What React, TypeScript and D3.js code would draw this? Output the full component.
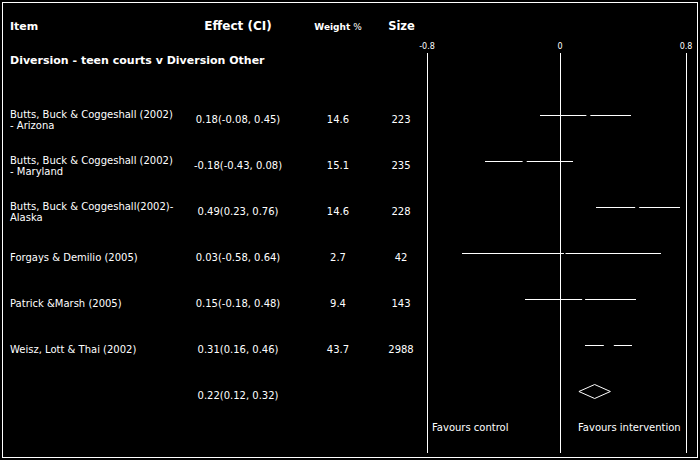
import React from "react";
import * as d3 from "d3";

const studyLabels = [
  ["Butts, Buck & Coggeshall  (2002)", "- Arizona"],
  ["Butts, Buck & Coggeshall (2002)", "- Maryland"],
  ["Butts, Buck & Coggeshall(2002)-", "Alaska"],
  ["Forgays & Demilio (2005)"],
  ["Patrick &Marsh (2005)"],
  ["Weisz, Lott & Thai (2002)"],
];
const effects = [0.18, -0.18, 0.49, 0.03, 0.15, 0.31];
const lowers = [-0.08, -0.43, 0.23, -0.58, -0.18, 0.16];
const uppers = [0.45, 0.08, 0.76, 0.64, 0.48, 0.46];
const weights = [14.6, 15.1, 14.6, 2.7, 9.4, 43.7];
const sizes = [223, 235, 228, 42, 143, 2988];
const pooled = [0.22, 0.12, 0.32];
const axisTicks = [-0.8, 0, 0.8];

const width = 700;
const height = 460;
// plain hyphen for negatives, like the original
const fmt = d3
  .formatLocale({ decimal: ".", thousands: ",", grouping: [3], currency: ["", ""], minus: "-" })
  .format(".2f");

const App = () => {
  // the original plot draws negative values a few px further left
  const x = d3
    .scaleLinear()
    .domain([-0.8, -0.000001, 0, 0.8])
    .range([427, 553, 560, 686]);

  const rows = d3.range(studyLabels.length + 1);
  const y = d3.scalePoint().domain(rows).range([115.5, 391.5]);

  const box = d3.scaleLinear().domain([0, 43.7]).range([1, 10]);

  const white = "#fff";
  const font = "DejaVu Sans";
  const last = y(rows.length - 1);

  return (
    <svg
      width={width}
      height={height}
      style={{ position: "absolute", left: 0, top: 0, background: "#000" }}
      fontFamily={font}
      fill={white}
    >
      <rect x={0} y={0} width={width} height={height} fill="#000" />
      <rect
        x={2.5}
        y={2.5}
        width={695}
        height={455}
        fill="none"
        stroke={white}
        strokeWidth={1}
      />

      {/* headers */}
      <text x={10} y={30} fontSize={11} fontWeight="bold">Item</text>
      <text x={238} y={30} fontSize={12} fontWeight="bold" textAnchor="middle">
        Effect (CI)
      </text>
      <text x={338} y={30} fontSize={9} textAnchor="middle">
        <tspan fontWeight="bold">Weight</tspan> %
      </text>
      <text x={401.5} y={30} fontSize={11.5} fontWeight="bold" textAnchor="middle">
        Size
      </text>
      <text x={10} y={64} fontSize={11} fontWeight="bold">
        Diversion - teen courts v Diversion Other
      </text>

      {/* axis */}
      <g shapeRendering="crispEdges">
        {axisTicks.map((t) => (
          <g key={t}>
            <line x1={x(t)} x2={x(t)} y1={53} y2={453} stroke={white} />
            <text x={x(t)} y={49} fontSize={8} textAnchor="middle">
              {t === 0 ? "0" : String(t)}
            </text>
          </g>
        ))}
      </g>

      {/* studies */}
      {studyLabels.map((lbl, i) => {
        const yy = y(i);
        const s = box(weights[i]);
        return (
          <g key={i} fontSize={10}>
            {lbl.length > 1 ? (
              <text x={10}>
                <tspan x={10} y={yy + 2}>{lbl[0]}</tspan>
                <tspan x={10} y={yy + 13.5}>{lbl[1]}</tspan>
              </text>
            ) : (
              <text x={10} y={yy + 7.5}>{lbl[0]}</text>
            )}
            <text x={238} y={yy + 7.5} textAnchor="middle">
              {fmt(effects[i]) + "(" + fmt(lowers[i]) + ", " + fmt(uppers[i]) + ")"}
            </text>
            <text x={338} y={yy + 7.5} textAnchor="middle">{weights[i]}</text>
            <text x={401} y={yy + 7.5} textAnchor="middle">{sizes[i]}</text>
            <line
              x1={x(lowers[i])}
              x2={x(uppers[i])}
              y1={yy}
              y2={yy}
              stroke={white}
              shapeRendering="crispEdges"
            />
            <rect
              x={x(effects[i]) - s / 2}
              y={yy - s / 2}
              width={s}
              height={s}
              fill="#000"
            />
          </g>
        );
      })}

      {/* pooled */}
      <text x={238} y={last + 7.5} fontSize={10} textAnchor="middle">
        {fmt(pooled[0]) + "(" + fmt(pooled[1]) + ", " + fmt(pooled[2]) + ")"}
      </text>
      <polygon
        points={[
          [x(pooled[1]), last],
          [x(pooled[0]), last - 7],
          [x(pooled[2]), last],
          [x(pooled[0]), last + 7],
        ]
          .map((p) => p.join(","))
          .join(" ")}
        fill="none"
        stroke={white}
      />

      <text x={432} y={431} fontSize={10}>Favours control</text>
      <text x={578} y={431} fontSize={10}>Favours intervention</text>
    </svg>
  );
};

export default App;
